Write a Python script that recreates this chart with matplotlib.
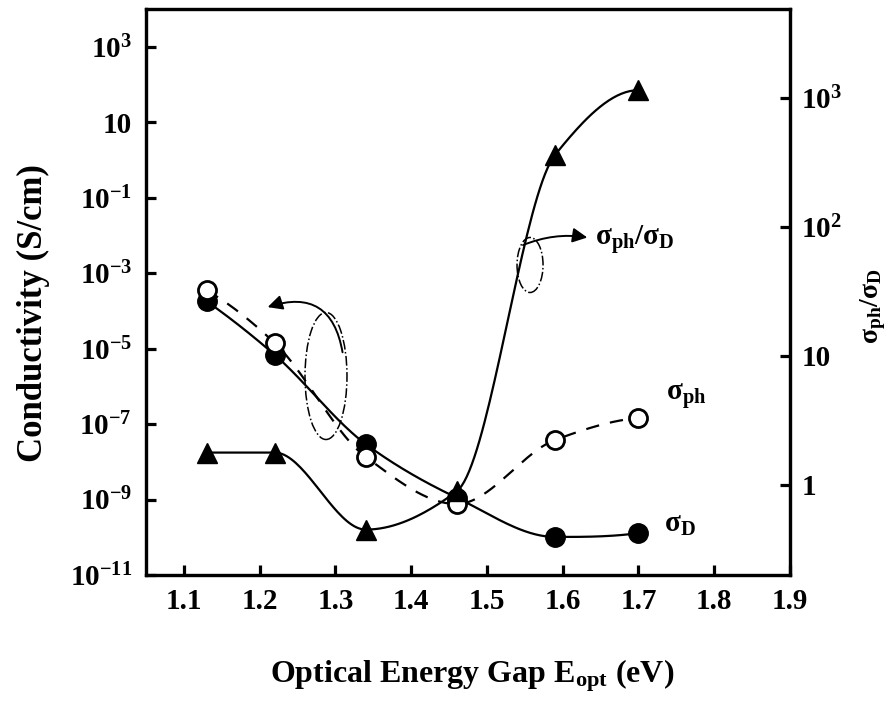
import numpy as np
import matplotlib
matplotlib.use('Agg')
import matplotlib.pyplot as plt
from matplotlib.patches import Ellipse

plt.rcParams['font.family'] = ['Liberation Serif', 'DejaVu Serif']
plt.rcParams['font.weight'] = 'bold'
plt.rcParams['mathtext.fontset'] = 'custom'
plt.rcParams['mathtext.rm'] = 'Liberation Serif:bold'
plt.rcParams['mathtext.bf'] = 'Liberation Serif:bold'
plt.rcParams['mathtext.it'] = 'Liberation Serif:bold'
plt.rcParams['axes.unicode_minus'] = False

# optical gap (eV)
e_opt = [1.13, 1.22, 1.34, 1.46, 1.59, 1.70]
# dark conductivity, photo conductivity (S/cm)
sigma_d = [1.8e-4, 6.8e-6, 2.95e-8, 1.12e-9, 1.02e-10, 1.29e-10]
sigma_ph = [3.5e-4, 1.4e-5, 1.35e-8, 7.6e-10, 3.8e-8, 1.45e-7]
# photosensitivity sigma_ph / sigma_D
ratio = [1.78, 1.78, 0.45, 0.89, 363, 1150]

x_ticks = [1.1, 1.2, 1.3, 1.4, 1.5, 1.6, 1.7, 1.8, 1.9]
left_ticks = [1e-11, 1e-9, 1e-7, 1e-5, 1e-3, 1e-1, 1e1, 1e3]
left_labels = [r'$\mathbf{10^{-11}}$', r'$\mathbf{10^{-9}}$', r'$\mathbf{10^{-7}}$',
               r'$\mathbf{10^{-5}}$', r'$\mathbf{10^{-3}}$', r'$\mathbf{10^{-1}}$',
               '10', r'$\mathbf{10^{3}}$']
right_ticks = [1, 10, 100, 1000]
right_labels = ['1', '10', r'$\mathbf{10^{2}}$', r'$\mathbf{10^{3}}$']


def end_slope(h0, h1, m0, m1):
    d = ((2 * h0 + h1) * m0 - h0 * m1) / (h0 + h1)
    if np.sign(d) != np.sign(m0):
        return 0.0
    if np.sign(m0) != np.sign(m1) and abs(d) > abs(3 * m0):
        return 3 * m0
    return d


def smooth(x, y, n=40):
    # monotone (pchip) smoothed line through the points, in log space
    x = np.asarray(x, float)
    ly = np.log10(y)
    h = np.diff(x)
    dl = np.diff(ly) / h
    m = np.zeros_like(ly)
    for k in range(1, len(x) - 1):
        if dl[k - 1] * dl[k] <= 0:
            m[k] = 0.0
        else:
            w1 = 2 * h[k] + h[k - 1]
            w2 = h[k] + 2 * h[k - 1]
            m[k] = (w1 + w2) / (w1 / dl[k - 1] + w2 / dl[k])
    m[0] = end_slope(h[0], h[1], dl[0], dl[1])
    m[-1] = end_slope(h[-1], h[-2], dl[-1], dl[-2])
    xs, ys = [], []
    t = np.linspace(0, 1, n)
    h00 = 2 * t**3 - 3 * t**2 + 1
    h10 = t**3 - 2 * t**2 + t
    h01 = -2 * t**3 + 3 * t**2
    h11 = t**3 - t**2
    for i in range(len(x) - 1):
        xs.append(x[i] + t * h[i])
        ys.append(h00 * ly[i] + h10 * h[i] * m[i] + h01 * ly[i + 1] + h11 * h[i] * m[i + 1])
    return np.concatenate(xs), 10 ** np.concatenate(ys)


fig = plt.figure(figsize=(8.94, 7.02), dpi=100)
ax = fig.add_axes([0.1633, 0.1809, 0.7204, 0.8063])
ax2 = ax.twinx()

xs, ys = smooth(e_opt, sigma_d)
ax.plot(xs, ys, color='black', lw=1.6, zorder=2)
xs, ys = smooth(e_opt, sigma_ph)
ax.plot(xs, ys, color='black', lw=1.6, ls=(0, (6, 5)), zorder=2)
ax.plot(e_opt, sigma_d, 'o', color='black', ms=14, zorder=3)
ax.plot(e_opt, sigma_ph, 'o', mfc='white', mec='black', mew=2, ms=13, zorder=4)

xs, ys = smooth(e_opt, ratio)
ax2.plot(xs, ys, color='black', lw=1.6, zorder=2)
ax2.plot(e_opt, ratio, '^', color='black', ms=15, zorder=5)

ax.set_yscale('log')
ax.set_xlim(1.05, 1.9)
ax.set_ylim(1e-11, 1e4)
ax.set_xticks(x_ticks)
ax.set_xticklabels([str(t) for t in x_ticks])
ax.set_yticks(left_ticks)
ax.set_yticklabels(left_labels)
ax.minorticks_off()

ax2.set_yscale('log')
ax2.set_ylim(0.2, 4900)
ax2.set_yticks(right_ticks)
ax2.set_yticklabels(right_labels)
ax2.minorticks_off()

for a in (ax, ax2):
    for s in a.spines.values():
        s.set_linewidth(2.3)
    a.tick_params(direction='in', length=7, width=2.3, labelsize=21)
ax.tick_params(axis='x', pad=9, top=False)
ax.tick_params(axis='y', pad=10, right=False)
ax2.tick_params(axis='y', pad=8)

# ellipses + arrows pointing to the axis each curve belongs to
ax.add_patch(Ellipse((0.2795, 0.3516), 0.0652, 0.2244, transform=ax.transAxes,
                     fill=False, ls='-.', lw=1.1, color='black'))
ax.annotate('', xy=(0.1848, 0.4717), xytext=(0.3059, 0.3887),
            xycoords='axes fraction', textcoords='axes fraction',
            arrowprops=dict(arrowstyle='-|>', color='black', lw=1.4,
                            mutation_scale=22, connectionstyle='arc3,rad=0.6'))
ax.add_patch(Ellipse((0.5963, 0.5477), 0.0404, 0.0972, transform=ax.transAxes,
                     fill=False, ls='-.', lw=1.1, color='black'))
ax.annotate('', xy=(0.6895, 0.5955), xytext=(0.5815, 0.581),
            xycoords='axes fraction', textcoords='axes fraction',
            arrowprops=dict(arrowstyle='-|>', color='black', lw=1.4,
                            mutation_scale=22, connectionstyle='arc3,rad=-0.15'))
ax.text(0.697, 0.593, r'σ$_{\mathbf{ph}}$/σ$_{\mathbf{D}}$', transform=ax.transAxes,
        fontsize=21, ha='left', va='center')
ax.text(0.808, 0.317, r'σ$_{\mathbf{ph}}$', transform=ax.transAxes,
        fontsize=21, ha='left', va='center')
ax.text(0.804, 0.089, r'σ$_{\mathbf{D}}$', transform=ax.transAxes,
        fontsize=21, ha='left', va='center')

fig.text(0.037, 0.554, 'Conductivity (S/cm)', rotation=90, fontsize=25,
         ha='center', va='center')
fig.text(0.977, 0.564, r'σ$_{\mathbf{ph}}$/σ$_{\mathbf{D}}$', rotation=90, fontsize=20,
         ha='center', va='center')
fig.text(0.528, 0.037, r'Optical Energy Gap E$_{\mathbf{opt}}$ (eV)', fontsize=23,
         ha='center', va='center')

fig.savefig('out.png', dpi=100)
